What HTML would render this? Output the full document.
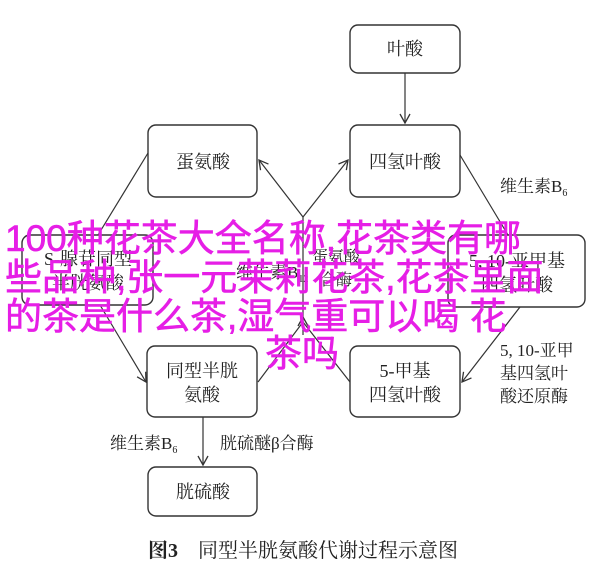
<!DOCTYPE html>
<html><head><meta charset="utf-8"><style>
html,body{margin:0;padding:0;background:#fff;}
svg{display:block;}
text{font-family:"Liberation Serif","Noto Serif CJK SC",serif;fill:#222;}
.m{font-family:"Liberation Sans","Noto Sans CJK SC",sans-serif;fill:#e61ee6;font-size:37px;stroke:#e61ee6;stroke-width:0.6;}
</style></head><body>
<svg width="600" height="574" viewBox="0 0 600 574" xmlns="http://www.w3.org/2000/svg">
<defs><marker id="a" markerWidth="12" markerHeight="12" refX="10" refY="6" orient="auto" markerUnits="userSpaceOnUse"><path d="M1,1 L10,6 L1,11" fill="none" stroke="#333" stroke-width="1.3"/></marker></defs>
<g fill="#fff" stroke="#333" stroke-width="1.4">
<rect x="350" y="25" width="110" height="48" rx="8"/>
<rect x="350" y="125" width="110" height="72" rx="8"/>
<rect x="148" y="125" width="109" height="72" rx="8"/>
<rect x="22" y="235" width="131" height="70" rx="8"/>
<rect x="448" y="235" width="137" height="72" rx="8"/>
<rect x="147" y="346" width="110" height="71" rx="8"/>
<rect x="350" y="346" width="110" height="71" rx="8"/>
<rect x="148" y="467" width="109" height="49" rx="8"/>
</g>
<g stroke="#333" stroke-width="1.2" fill="none">
<line x1="405" y1="73" x2="405" y2="123" marker-end="url(#a)"/>
<line x1="148" y1="153" x2="98" y2="235"/>
<line x1="100" y1="305" x2="146" y2="382" marker-end="url(#a)"/>
<line x1="460" y1="155" x2="508" y2="235"/>
<line x1="520" y1="307" x2="462" y2="382" marker-end="url(#a)"/>
<line x1="303" y1="217" x2="259" y2="160" marker-end="url(#a)"/>
<line x1="303" y1="217" x2="348" y2="160" marker-end="url(#a)"/>
<line x1="303" y1="322" x2="303" y2="217" />
<line x1="303" y1="335" x2="303" y2="317" marker-end="url(#a)"/>
<line x1="303" y1="322" x2="258" y2="382"/>
<line x1="303" y1="322" x2="350" y2="382"/>
<line x1="203" y1="417" x2="203" y2="465" marker-end="url(#a)"/>
</g>
<g font-size="18" text-anchor="middle">
<text x="405" y="55">叶酸</text>
<text x="405" y="168">四氢叶酸</text>
<text x="203" y="168">蛋氨酸</text>
<text x="88" y="265">S-腺苷同型</text>
<text x="88" y="289">半胱氨酸</text>
<text x="517" y="267">5, 10-亚甲基</text>
<text x="517" y="291">四氢叶酸</text>
<text x="202" y="377">同型半胱</text>
<text x="202" y="401">氨酸</text>
<text x="405" y="377">5-甲基</text>
<text x="405" y="401">四氢叶酸</text>
<text x="203" y="498">胱硫酸</text>
<text x="336" y="262" font-size="16">蛋氨酸</text>
<text x="336" y="285" font-size="16">合酶</text>
</g>
<g font-size="17">
<text x="236" y="278">维生素B<tspan font-size="10" dy="4">12</tspan></text>
<text x="500" y="192">维生素B<tspan font-size="10" dy="4">6</tspan></text>
<text x="500" y="356">5, 10-亚甲</text>
<text x="500" y="379">基四氢叶</text>
<text x="500" y="402">酸还原酶</text>
<text x="110" y="449">维生素B<tspan font-size="10" dy="4">6</tspan></text>
<text x="220" y="449">胱硫醚β合酶</text>
</g>
<text x="303" y="557" font-size="20" text-anchor="middle"><tspan font-weight="bold">图3</tspan>　同型半胱氨酸代谢过程示意图</text>
<text class="m" x="5" y="251">100种花茶大全名称,花茶类有哪</text>
<text class="m" x="5" y="290">些品种,张一元茉莉花茶,花茶里面</text>
<text class="m" x="5" y="329">的茶是什么茶,湿气重可以喝  花</text>
<text class="m" x="265" y="366">茶吗</text>
</svg>
</body></html>
